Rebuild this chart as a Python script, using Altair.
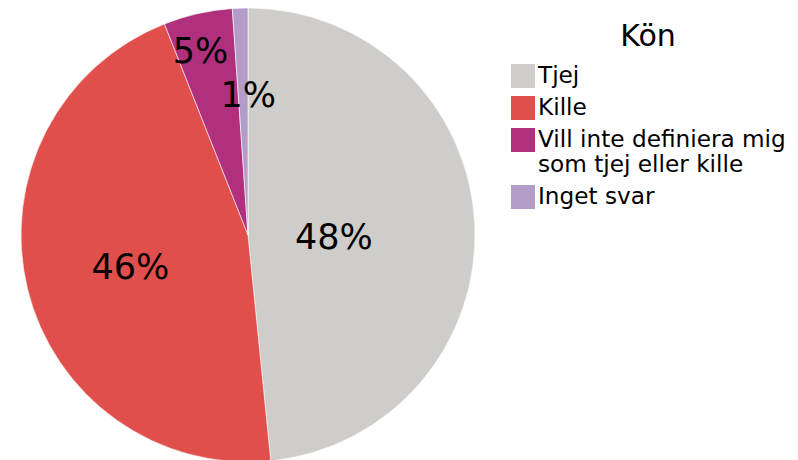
import altair as alt
import pandas as pd

categories = ["Tjej", "Kille", "Vill inte definiera mig som tjej eller kille", "Inget svar"]
shares = [48.4, 45.6, 4.9, 1.1]
labels = ["48%", "46%", "5%", "1%"]
colors = ["#CFCDC9", "#E14F4C", "#B0307E", "#B39CC8"]

df = pd.DataFrame({"kon": categories, "andel": shares, "etikett": labels,
                   "ordning": list(range(len(categories)))})

FONT = "DejaVu Sans"
CX, CY, R = 240, 227, 227

base = alt.Chart(df).transform_window(
    cum="sum(andel)", sort=[alt.SortField("ordning")]
).transform_calculate(
    start="datum.cum - datum.andel", mid="datum.cum - datum.andel / 2"
)

theta_scale = alt.Scale(domain=[0, 100], range=[0, 6.283185307179586])

pie = base.mark_arc(radius=R, stroke="#ffffff", strokeWidth=0.6).encode(
    x=alt.value(CX), y=alt.value(CY),
    theta=alt.Theta("start:Q", scale=theta_scale),
    theta2="cum:Q",
    color=alt.Color(
        "kon:N",
        scale=alt.Scale(domain=categories, range=colors),
        legend=alt.Legend(
            title="Kön", orient="none", legendX=503, legendY=14,
            titleFontSize=30, titleFont=FONT, titleFontWeight="normal",
            titleColor="#000000", titleAnchor="middle", titlePadding=12,
            labelFont=FONT, labelFontSize=23.2, labelColor="#000000",
            labelLimit=400, symbolType="square", symbolSize=576,
            symbolStrokeWidth=0, symbolOpacity=1, rowPadding=8,
            labelOffset=3,
            labelExpr="datum.label == 'Vill inte definiera mig som tjej eller kille' ? ['Vill inte definiera mig', 'som tjej eller kille'] : datum.label",
        ),
    ),
)

# label radius and small nudges (styling only)
placement = [(86, 0, 7), (121, 0, 4), (188, -6, 0), (139, 5, 0)]
texts = []
for cat, (rr, ddx, ddy) in zip(categories, placement):
    texts.append(
        base.transform_filter(alt.datum.kon == cat)
        .mark_text(radius=rr, dx=ddx, dy=ddy, font=FONT, fontSize=35, color="#000000")
        .encode(x=alt.value(CX), y=alt.value(CY),
                theta=alt.Theta("mid:Q", scale=theta_scale),
                text="etikett:N")
    )

chart = alt.layer(pie, *texts).properties(
    width=782, height=452, padding=0,
    autosize=alt.AutoSizeParams(type="none"),
).configure_view(stroke=None).configure_legend(labelBaseline="middle")

chart.save("out.html", embed_options={"renderer": "svg", "actions": False})
